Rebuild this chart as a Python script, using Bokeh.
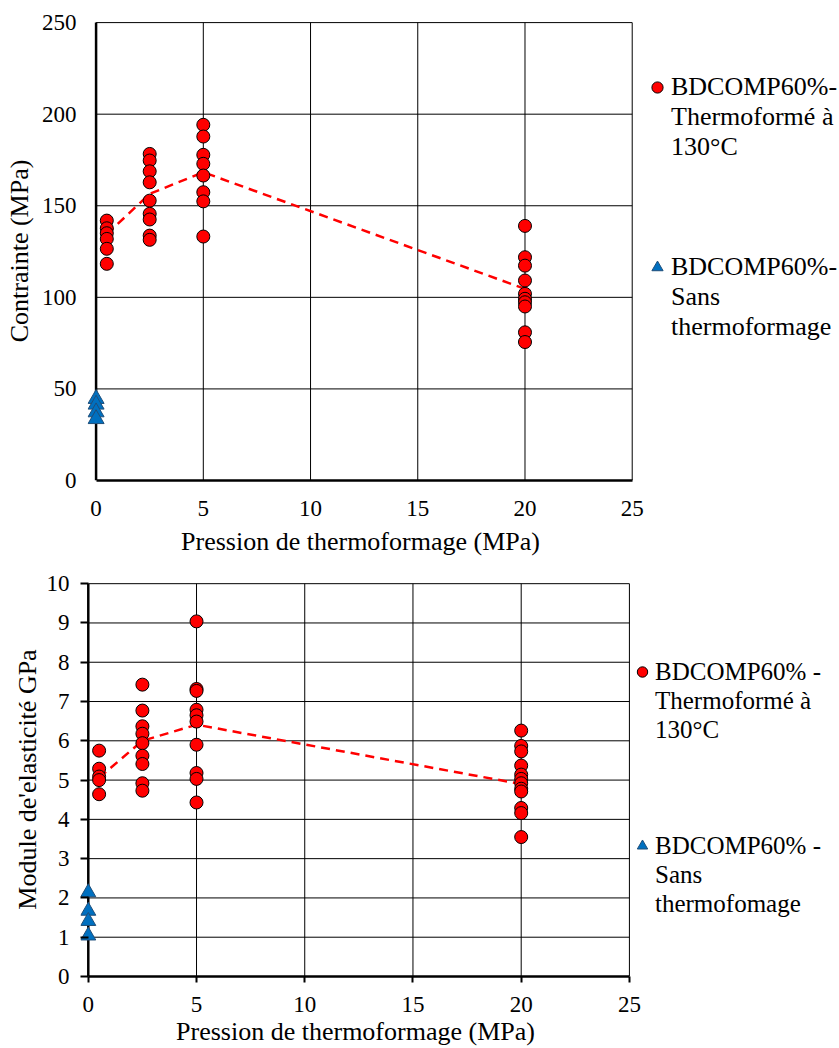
from bokeh.plotting import figure
from bokeh.models import ColumnDataSource, Legend, LegendItem, FixedTicker, Range1d
from bokeh.embed import file_html
from bokeh.resources import INLINE
from bokeh.core.properties import value

FONT = "Liberation Serif"

# ---------------- data ----------------
pressure_levels = [0.5, 2.5, 5, 20]          # MPa (thermoformed samples)
x_ticks = [0, 5, 10, 15, 20, 25]

# Top chart: Contrainte (MPa)
stress_p0_5 = [141.9, 137.7, 135.0, 131.9, 126.5, 118.3]
stress_p2_5 = [178.3, 174.7, 168.8, 162.8, 152.8, 145.6, 142.5, 133.7, 131.4]
stress_p5 = [194.2, 187.8, 177.8, 172.9, 166.5, 157.4, 152.4, 133.2]
stress_p20 = [139.0, 121.9, 117.3, 109.2, 101.9, 99.2, 97.3, 95.0, 80.9, 75.6]
stress_untreated = [44.6, 41.5, 37.3, 33.6]           # at 0 MPa
stress_trend = [134.5, 156.5, 168.3, 104.6]
stress_ticks = [0, 50, 100, 150, 200, 250]

# Bottom chart: Module d'elasticite (GPa)
mod_p0_5 = [5.75, 5.29, 5.09, 5.00, 4.64]
mod_p2_5 = [7.43, 6.77, 6.37, 6.18, 5.94, 5.62, 5.41, 4.92, 4.73]
mod_p5 = [9.04, 7.32, 7.27, 6.79, 6.65, 6.49, 5.90, 5.18, 5.03, 4.43]
mod_p20 = [6.26, 5.87, 5.73, 5.37, 5.14, 5.03, 4.92, 4.78, 4.71, 4.29, 4.16, 3.55]
mod_untreated = [2.14, 1.67, 1.41, 1.04]              # at 0 MPa
mod_trend = [5.06, 6.00, 6.41, 4.90]
mod_ticks = [0, 1, 2, 3, 4, 5, 6, 7, 8, 9, 10]

x_title = "Pression de thermoformage (MPa)"
top_y_title = "Contrainte (MPa)"
bottom_y_title = "Module de'elasticité GPa"
top_legend_thermo = ["BDCOMP60%-", "Thermoformé à", "130°C"]
top_legend_sans = ["BDCOMP60%-", "Sans", "thermoformage"]
bottom_legend_thermo = ["BDCOMP60% -", "Thermoformé à", "130°C"]
bottom_legend_sans = ["BDCOMP60% -", "Sans", "thermofomage"]


def build(groups, untreated, trend, y_ticks, y_title, leg_a, leg_b, g):
    p = figure(frame_width=g["fw"], frame_height=g["fh"],
               x_range=Range1d(g["xstart"], g["xend"]), y_range=Range1d(y_ticks[0], g["yend"]),
               output_backend="svg", toolbar_location=None,
               min_border_left=g["bl"], min_border_right=g["br"],
               min_border_top=g["bt"], min_border_bottom=g["bb"],
               background_fill_color="white", border_fill_color="white",
               outline_line_color=None)
    p.xgrid.visible = False
    p.ygrid.visible = False

    # grid lines (from tick arrays) and the vertical axis line at x = 0
    hy = y_ticks[1:]
    p.segment(x0=[x_ticks[0]] * len(hy), x1=[x_ticks[-1]] * len(hy), y0=hy, y1=hy,
              line_color="black", line_width=1, level="underlay")
    vx = x_ticks[1:]
    p.segment(x0=vx, x1=vx, y0=[y_ticks[0]] * len(vx), y1=[y_ticks[-1]] * len(vx),
              line_color="black", line_width=1, level="underlay")
    p.segment(x0=[x_ticks[0]], x1=[x_ticks[0]], y0=[y_ticks[0]], y1=[y_ticks[-1]],
              line_color="black", line_width=2.5, level="underlay")

    xs, ys = [], []
    for pv, vals in zip(pressure_levels, groups):
        xs += [pv] * len(vals)
        ys += list(vals)
    src = ColumnDataSource(dict(x=xs, y=ys))

    p.line(pressure_levels, trend, line_color="#FF0000", line_width=2.5, line_dash="9 6")
    r_c = p.scatter("x", "y", source=src, marker="circle", size=13,
                    fill_color="#FF0000", line_color="black", line_width=1)
    r_t = p.scatter([x_ticks[0]] * len(untreated), untreated, marker="triangle", size=g["tri"],
                    fill_color="#0070C0", line_color="#1F4E79", line_width=1)
    blank = p.line(x=[], y=[], line_alpha=0)

    xa = p.xaxis[0]
    ya = p.yaxis[0]
    xa.ticker = FixedTicker(ticks=x_ticks)
    ya.ticker = FixedTicker(ticks=y_ticks)
    xa.bounds = (x_ticks[0], x_ticks[-1])
    for ax in (xa, ya):
        ax.axis_line_color = "black"
        ax.axis_line_width = 2.5
        ax.major_tick_line_width = 2
        ax.major_tick_line_color = "black"
        ax.minor_tick_out = 0
        ax.minor_tick_in = 0
        ax.major_label_text_font = FONT
        ax.major_label_text_font_size = "23px"
        ax.major_label_text_color = "black"
        ax.axis_label_text_font = FONT
        ax.axis_label_text_font_size = "26px"
        ax.axis_label_text_font_style = "normal"
        ax.axis_label_text_color = "black"
    ya.axis_line_color = None
    xa.major_tick_out = g["xtick"]
    xa.major_tick_in = 0
    ya.major_tick_out = 0
    ya.major_tick_in = g["ytick_in"]
    xa.axis_label = x_title
    ya.axis_label = y_title
    xa.major_label_standoff = g["xls"]
    ya.major_label_standoff = g["yls"]
    xa.axis_label_standoff = g["xas"]
    ya.axis_label_standoff = g["yas"]

    items = [LegendItem(label=value(leg_a[0]), renderers=[r_c]),
             LegendItem(label=value(leg_a[1]), renderers=[blank]),
             LegendItem(label=value(leg_a[2]), renderers=[blank]),
             LegendItem(label=value(""), renderers=[blank]),
             LegendItem(label=value(""), renderers=[blank]),
             LegendItem(label=value(""), renderers=[blank]),
             LegendItem(label=value(leg_b[0]), renderers=[r_t]),
             LegendItem(label=value(leg_b[1]), renderers=[blank]),
             LegendItem(label=value(leg_b[2]), renderers=[blank])]
    legend = Legend(items=items, location=(g["lx"], g["ly"]), orientation="vertical",
                    spacing=0, padding=0, margin=0,
                    glyph_width=g["gw"], glyph_height=g["ih"], label_height=g["ih"],
                    label_standoff=0,
                    label_text_font=FONT, label_text_font_size=g["lfs"],
                    label_text_color="black",
                    border_line_color=None, background_fill_alpha=0)
    p.add_layout(legend, "right")
    return p


g_top = dict(fw=546, fh=459, xstart=-0.4, xend=25.06, yend=250.6,
             bl=87, br=206, bt=21, bb=78, tri=16,
             xtick=0, ytick_in=0, xls=20, xas=8, yls=11, yas=5,
             lx=10, ly=138, gw=28, ih=30, lfs="26px")
g_bot = dict(fw=550, fh=394, xstart=-0.36, xend=25.05, yend=10.03,
             bl=80, br=209, bt=24, bb=71, tri=15,
             xtick=6, ytick_in=8, xls=14, xas=2, yls=11, yas=2,
             lx=-1, ly=58, gw=26, ih=29, lfs="25px")

p1 = build([stress_p0_5, stress_p2_5, stress_p5, stress_p20], stress_untreated, stress_trend,
           stress_ticks, top_y_title, top_legend_thermo, top_legend_sans, g_top)
p2 = build([mod_p0_5, mod_p2_5, mod_p5, mod_p20], mod_untreated, mod_trend,
           mod_ticks, bottom_y_title, bottom_legend_thermo, bottom_legend_sans, g_bot)

open("out.html", "w").write(file_html([p1, p2], INLINE))
